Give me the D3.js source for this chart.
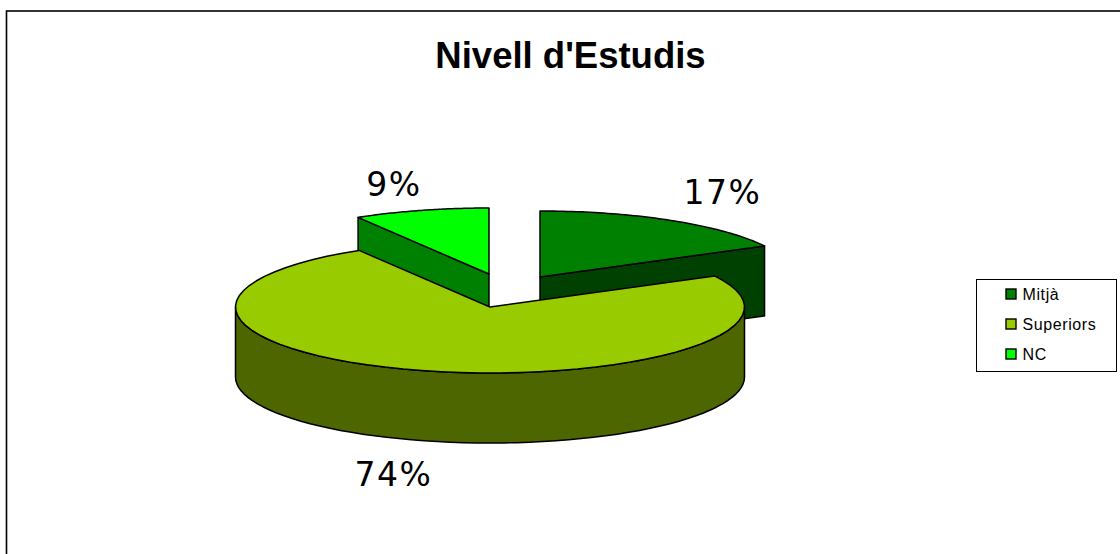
<!DOCTYPE html>
<html>
<head>
<meta charset="utf-8">
<script src="https://cdn.jsdelivr.net/npm/d3@7"></script>
<style>
html, body { margin: 0; padding: 0; background: #fff; }
svg { display: block; }
text { font-family: "Liberation Sans", Arial, sans-serif; fill: #000; }
</style>
</head>
<body>
<svg id="canvas"></svg>
<script>
const categories = ["Mitjà", "Superiors", "NC"];
const values = [17.2, 74.2, 8.6];
const topColors = ["#008000", "#99cc00", "#00ff00"];
const sideColors = ["#004000", "#4d6600", "#008000"];
const title = "Nivell d'Estudis";

const width = 1120;
const height = 554;
const cx = 490;
const cy = 307;
const rx = 254.5;
const ry = 66;
const depth = 70;
// how far each slice is pulled out of the pie
const offsets = [{x: 50, y: -30}, {x: 0, y: 0}, {x: -1, y: -33}];
const labelPos = [{x: 722.5, y: 204}, {x: 393.5, y: 486}, {x: 394, y: 196}];

const svg = d3.select("#canvas").attr("width", width).attr("height", height);

svg.append("rect")
    .attr("x", 6.5).attr("y", 11)
    .attr("width", 1130).attr("height", 570)
    .attr("fill", "#fff").attr("stroke", "#000").attr("stroke-width", 1.6);

svg.append("text")
    .attr("x", 570.5).attr("y", 68)
    .attr("text-anchor", "middle")
    .style("font-size", "36.5px")
    .style("font-weight", "bold")
    .text(title);

const arcs = d3.pie().sort(null).value(d => d)(values);
const line = d3.line();

// angle measured clockwise from 12 o'clock, flattened onto the ellipse
const rimX = a => rx * Math.sin(a);
const rimY = a => -ry * Math.cos(a);

function rimPoints(a0, a1, ox, oy) {
    const steps = d3.range(0, 61).map(i => a0 + (a1 - a0) * i / 60);
    return steps.map(a => [ox + rimX(a), oy + rimY(a)]);
}

function topPath(d, ox, oy) {
    return line([[ox, oy], ...rimPoints(d.startAngle, d.endAngle, ox, oy)]) + "Z";
}

function cutFace(a, ox, oy) {
    const p = [ox + rimX(a), oy + rimY(a)];
    return line([[ox, oy], p, [p[0], p[1] + depth], [ox, oy + depth]]) + "Z";
}

const pieGroup = svg.append("g").attr("stroke", "#000").attr("stroke-width", 1.5).attr("stroke-linejoin", "round");
const pos = i => [cx + offsets[i].x, cy + offsets[i].y];

// back slices first
[2, 0].forEach(i => {
    const [ox, oy] = pos(i);
    const a = i === 2 ? arcs[i].startAngle : arcs[i].endAngle;
    pieGroup.append("path").attr("d", cutFace(a, ox, oy)).attr("fill", sideColors[i]);
    pieGroup.append("path").attr("d", topPath(arcs[i], ox, oy)).attr("fill", topColors[i]);
});

// big front slice, outer wall is only visible from 3 to 9 o'clock
const [bx, by] = pos(1);
const front = rimPoints(Math.PI / 2, 3 * Math.PI / 2, bx, by);
const wall = front.concat(front.slice().reverse().map(p => [p[0], p[1] + depth]));
pieGroup.append("path").attr("d", line(wall) + "Z").attr("fill", sideColors[1]);
pieGroup.append("path").attr("d", topPath(arcs[1], bx, by)).attr("fill", topColors[1]);

svg.selectAll(".pct")
    .data(values)
    .join("text")
    .attr("class", "pct")
    .attr("x", (d, i) => labelPos[i].x)
    .attr("y", (d, i) => labelPos[i].y)
    .attr("text-anchor", "middle")
    .style("font-family", '"DejaVu Sans"')
    .style("font-size", "33px")
    .style("letter-spacing", "1.5px")
    .text(d => Math.round(d) + "%");

const legend = svg.append("g").attr("transform", "translate(976.5, 279.5)");
legend.append("rect")
    .attr("width", 140).attr("height", 92)
    .attr("fill", "#fff").attr("stroke", "#000");
const legendY = d3.scalePoint().domain(categories).range([14.5, 74.5]);
const rows = legend.selectAll("g").data(categories).join("g")
    .attr("transform", d => `translate(0, ${legendY(d)})`);
rows.append("rect")
    .attr("x", 29.5).attr("y", -5)
    .attr("width", 10).attr("height", 10)
    .attr("fill", (d, i) => topColors[i])
    .attr("stroke", "#000").attr("stroke-width", 1.4);
rows.append("text")
    .attr("x", 46).attr("y", 6)
    .style("font-size", "16px")
    .style("letter-spacing", "0.6px")
    .text(d => d);
</script>
</body>
</html>
